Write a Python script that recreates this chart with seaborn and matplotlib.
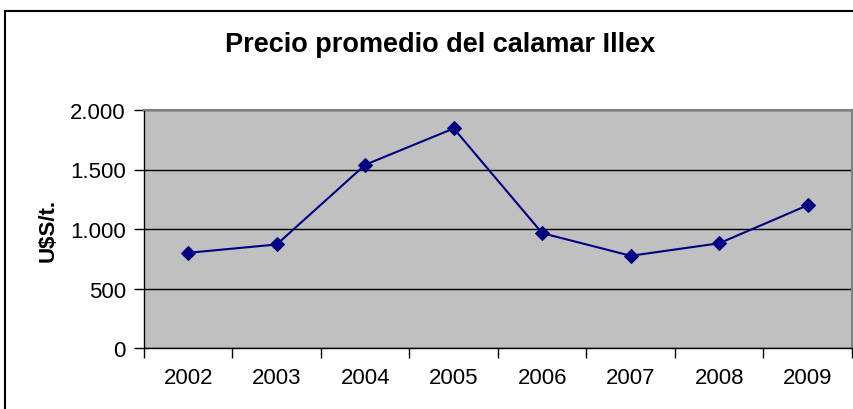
import matplotlib
matplotlib.use("Agg")
import matplotlib.pyplot as plt
import seaborn as sns
import pandas as pd
from matplotlib.ticker import FuncFormatter, FixedLocator, NullFormatter
from matplotlib.patches import Rectangle

years = ["2002", "2003", "2004", "2005", "2006", "2007", "2008", "2009"]
prices = [800, 870, 1540, 1845, 965, 775, 880, 1200]
title = "Precio promedio del calamar Illex"
ylabel = "U$S/t."

sns.set_theme(style="white")
plt.rcParams["font.family"] = ["Liberation Sans", "DejaVu Sans"]

W, H = 854, 410
fig = plt.figure(figsize=(W / 100, H / 100), dpi=100)
ax = fig.add_axes([144 / W, (H - 349) / H, (852 - 144) / W, (349 - 111) / H])
ax.set_facecolor("#C0C0C0")

df = pd.DataFrame({"year": years, "price": prices})
sns.lineplot(data=df, x="year", y="price", ax=ax, color="#000080",
             marker="D", markersize=7.5, linewidth=1.5,
             markeredgecolor="#000080", sort=False)

ax.set_xlim(-0.5, len(years) - 0.5)
ax.set_ylim(0, 2000)
ax.set_yticks([0, 500, 1000, 1500, 2000])
ax.yaxis.set_major_formatter(FuncFormatter(lambda v, p: f"{v:,.0f}".replace(",", ".")))
ax.grid(axis="y", color="black", linewidth=1)
ax.set_axisbelow(True)

# category boundaries as ticks, labels at centres
ax.xaxis.set_major_locator(FixedLocator([i - 0.5 for i in range(len(years) + 1)]))
ax.xaxis.set_major_formatter(NullFormatter())
ax.xaxis.set_minor_locator(FixedLocator(list(range(len(years)))))
ax.set_xticklabels(years, minor=True)
ax.tick_params(axis="x", which="major", length=7, width=1, color="black", bottom=True, direction="out")
ax.tick_params(axis="x", which="minor", length=0, labelsize=16, pad=14, colors="black")
ax.tick_params(axis="y", length=7, width=1, color="black", left=True, direction="out",
               labelsize=16, pad=6, colors="black")

for side in ["left", "bottom"]:
    ax.spines[side].set_color("black")
    ax.spines[side].set_linewidth(1)
for side in ["top", "right"]:
    ax.spines[side].set_color("#808080")
    ax.spines[side].set_linewidth(1.5)

ax.set_xlabel("")
ax.set_ylabel(ylabel, fontsize=16, fontweight="bold", labelpad=8, color="black")

fig.text(440 / W, 1 - 45 / H, title, ha="center", va="center",
         fontsize=19.5, fontweight="bold", color="black")

fig.patches.append(Rectangle((5 / W, -0.1), 1.2, (H - 12) / H + 0.1,
                             transform=fig.transFigure, fill=False,
                             edgecolor="black", linewidth=1.5))

fig.savefig("out.png", dpi=100)
